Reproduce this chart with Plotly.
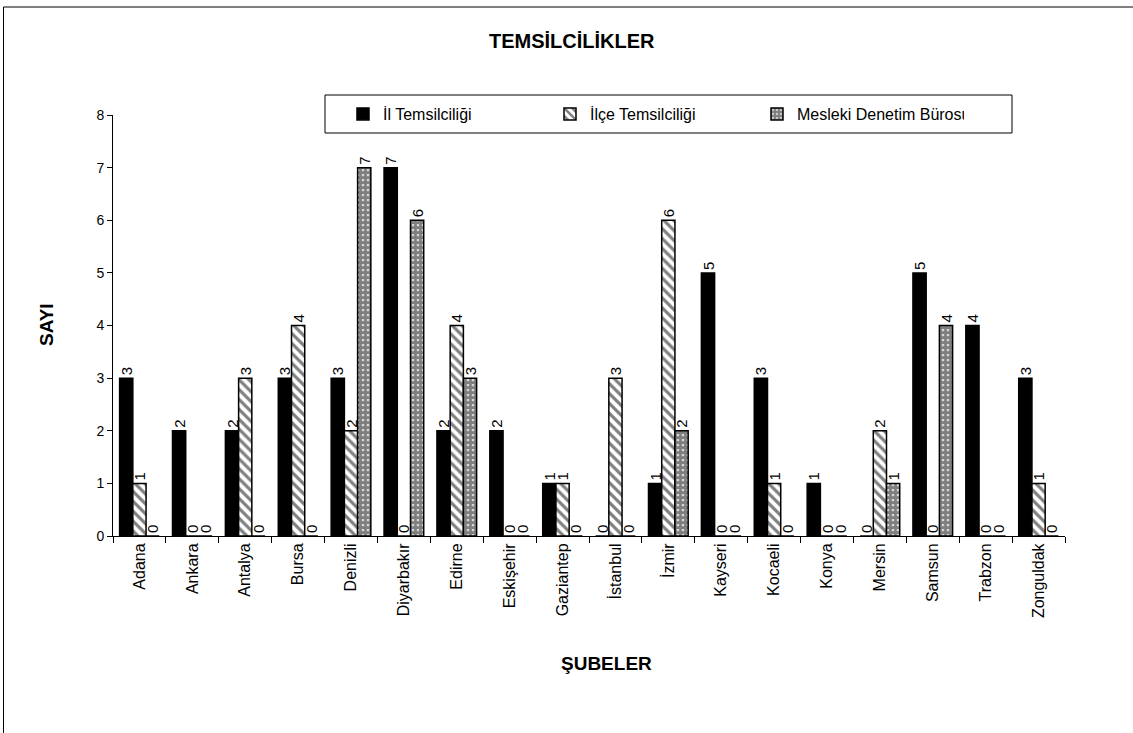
import plotly.graph_objects as go

categories = ["Adana", "Ankara", "Antalya", "Bursa", "Denizli", "Diyarbakır", "Edirne",
              "Eskişehir", "Gaziantep", "İstanbul", "İzmir", "Kayseri", "Kocaeli", "Konya",
              "Mersin", "Samsun", "Trabzon", "Zonguldak"]
il = [3, 2, 2, 3, 3, 7, 2, 2, 1, 0, 1, 5, 3, 1, 0, 5, 4, 3]
ilce = [1, 0, 3, 4, 2, 0, 4, 0, 1, 3, 6, 0, 1, 0, 2, 0, 0, 1]
mesleki = [0, 0, 0, 0, 7, 6, 3, 0, 0, 0, 2, 0, 0, 0, 1, 4, 0, 0]
series_names = ["İl Temsilciliği", "İlçe Temsilciliği", "Mesleki Denetim Bürosu"]

FONT = "Liberation Sans, Arial, sans-serif"
W, H = 1133, 733
L, R, T, B = 113, 1065, 115, 536

def px_x(p):
    return (p - L) / (R - L)

def px_y(p):
    return (B - p) / (B - T)

fig = go.Figure()
patterns = [
    dict(shape=""),
    dict(shape="\\", fgcolor="black", bgcolor="white", size=7, solidity=0.45),
    dict(shape=".", fgcolor="black", bgcolor="white", size=5, solidity=0.8),
]
colors = ["black", "white", "white"]
for name, vals, pat, col in zip(series_names, [il, ilce, mesleki], patterns, colors):
    fig.add_trace(go.Bar(
        x=categories, y=vals, name=name,
        marker=dict(color=col, line=dict(color="black", width=1.5), pattern=pat),
        text=[str(v) for v in vals], textposition="outside", textangle=-90,
        textfont=dict(family=FONT, size=15, color="black"),
        cliponaxis=False,
    ))

fig.update_layout(
    width=W, height=H,
    margin=dict(l=L, r=W - R, t=T, b=H - B, autoexpand=False),
    paper_bgcolor="white", plot_bgcolor="white",
    barmode="group", bargap=0.25, bargroupgap=0,
    font=dict(family=FONT, size=12, color="black"),
    showlegend=True,
    legend=dict(orientation="h", x=px_x(343), y=px_y(114), xanchor="left", yanchor="middle",
                bgcolor="rgba(0,0,0,0)", borderwidth=0, entrywidth=162,
                itemwidth=30, font=dict(family=FONT, size=16)),
    annotations=[
        dict(text="<b>TEMSİLCİLİKLER</b>", x=px_x(572), y=px_y(41), xref="paper", yref="paper",
             xanchor="center", yanchor="middle",
             showarrow=False, font=dict(family=FONT, size=20)),
        dict(text="<b>SAYI</b>", x=px_x(46), y=px_y(325), xref="paper", yref="paper",
             xanchor="center", yanchor="middle",
             showarrow=False, textangle=-90, font=dict(family=FONT, size=19)),
        dict(text="<b>ŞUBELER</b>", x=px_x(606), y=px_y(663), xref="paper", yref="paper",
             xanchor="center", yanchor="middle",
             showarrow=False, font=dict(family=FONT, size=19)),
    ],
    shapes=[
        dict(type="rect", xref="paper", yref="paper", x0=px_x(3.5), x1=px_x(1145),
             y0=px_y(745), y1=px_y(7), line=dict(color="black", width=1)),
        dict(type="rect", xref="paper", yref="paper", x0=px_x(325), x1=px_x(1012),
             y0=px_y(133), y1=px_y(95), line=dict(color="black", width=1)),
    ],
)
fig.update_xaxes(showline=True, linecolor="black", linewidth=1, ticks="outside",
                 tickson="boundaries", ticklen=6, tickcolor="black", tickangle=-90,
                 tickfont=dict(family=FONT, size=16), showgrid=False)
fig.update_yaxes(range=[0, 8], dtick=1, showline=True, linecolor="black", linewidth=1,
                 ticks="outside", ticklen=5, tickcolor="black", showgrid=False, zeroline=False,
                 tickfont=dict(family=FONT, size=14))

fig.write_html("out.html", config={"displayModeBar": False},
               post_script="document.body.style.margin='0';")
